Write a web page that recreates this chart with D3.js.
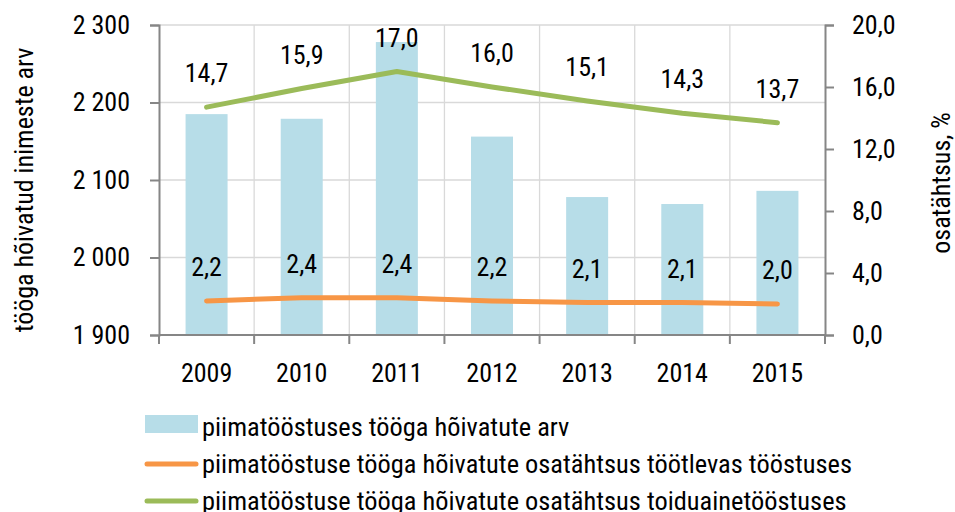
<!DOCTYPE html>
<html><head><meta charset="utf-8">
<script src="https://cdn.jsdelivr.net/npm/d3@7"></script>
<style>
body{margin:0;background:#fff;}
svg text{font-family:"Roboto Condensed","Liberation Sans Narrow","DejaVu Sans Condensed",sans-serif;fill:#000;}
</style></head>
<body><svg id="c" width="955" height="512"></svg>
<script>
const years = ["2009","2010","2011","2012","2013","2014","2015"];
const employed = [2185, 2179, 2278, 2156, 2078, 2069, 2086];
const shareManufacturing = [2.2, 2.4, 2.4, 2.2, 2.1, 2.1, 2.0];
const shareFood = [14.7, 15.9, 17.0, 16.0, 15.1, 14.3, 13.7];
const leftTicks = [1900, 2000, 2100, 2200, 2300];
const rightTicks = [0, 4, 8, 12, 16, 20];
const legendLabels = ["piimatööstuses tööga hõivatute arv","piimatööstuse tööga hõivatute osatähtsus töötlevas tööstuses","piimatööstuse tööga hõivatute osatähtsus toiduainetööstuses"];
const colors = {bar:"#b7dde8", orange:"#f79646", green:"#9bbb59", grid:"#d9d9d9", axis:"#868686"};
const FS = "26px";

const svg = d3.select("#c");
const L=159, R=825, T=25, B=335;
const xb = d3.scaleBand().domain(years).range([L,R]);
const yL = d3.scaleLinear().domain([1900,2300]).range([B,T]);
const yR = d3.scaleLinear().domain([0,20]).range([B,T]);
const fmtL = d => d3.format(",")(d).replace(/,/g," ");
const fmtR = d => d.toFixed(1).replace(".",",");

// gridlines
svg.append("g").selectAll("line").data(leftTicks).join("line")
  .attr("x1",L).attr("x2",R).attr("y1",d=>yL(d)).attr("y2",d=>yL(d))
  .attr("stroke",colors.grid).attr("stroke-width",1.3);
svg.append("g").selectAll("line").data(years.slice(1)).join("line")
  .attr("x1",d=>xb(d)).attr("x2",d=>xb(d)).attr("y1",T).attr("y2",B)
  .attr("stroke",colors.grid).attr("stroke-width",1.3);

// bars
svg.append("g").selectAll("rect").data(years).join("rect")
  .attr("x",d=>xb(d)+xb.bandwidth()/2-21).attr("width",42)
  .attr("y",(d,i)=>yL(employed[i])).attr("height",(d,i)=>B-yL(employed[i]))
  .attr("fill",colors.bar);

// axes
const axL = svg.append("g").attr("transform",`translate(${L},0)`)
  .call(d3.axisLeft(yL).tickValues(leftTicks).tickFormat(fmtL).tickSize(9).tickPadding(20));
const axR = svg.append("g").attr("transform",`translate(${R},0)`)
  .call(d3.axisRight(yR).tickValues(rightTicks).tickFormat(fmtR).tickSize(9).tickPadding(18));
const axB = svg.append("g").attr("transform",`translate(0,${B})`)
  .call(d3.axisBottom(xb).tickSize(0).tickPadding(29));
axB.select(".domain").remove();
svg.append("g").selectAll("line").data(years.concat(["end"])).join("line")
  .attr("x1",(d,i)=>L+i*xb.step()).attr("x2",(d,i)=>L+i*xb.step())
  .attr("y1",B).attr("y2",B+9).attr("stroke",colors.axis).attr("stroke-width",2);
svg.append("line").attr("x1",L).attr("x2",R).attr("y1",B).attr("y2",B).attr("stroke",colors.axis).attr("stroke-width",2);
[axL,axR].forEach(a=>{a.select(".domain").attr("stroke",colors.axis).attr("stroke-width",2);
  a.selectAll(".tick line").attr("stroke",colors.axis).attr("stroke-width",2);});
svg.selectAll(".tick text").style("font-size",FS).attr("fill","#000");

// lines
const cx = d => xb(d)+xb.bandwidth()/2;
const lineR = d3.line().x((d,i)=>cx(years[i])).y(d=>yR(d));
svg.append("path").datum(shareFood).attr("d",lineR).attr("fill","none").attr("stroke",colors.green).attr("stroke-width",5).attr("stroke-linecap","round").attr("stroke-linejoin","round");
svg.append("path").datum(shareManufacturing).attr("d",lineR).attr("fill","none").attr("stroke",colors.orange).attr("stroke-width",5).attr("stroke-linecap","round").attr("stroke-linejoin","round");

// data labels
[shareFood, shareManufacturing].forEach(s=>{
  svg.append("g").selectAll("text").data(s).join("text")
    .attr("x",(d,i)=>cx(years[i])).attr("y",d=>yR(d)-34).attr("dy","0.35em")
    .attr("text-anchor","middle").style("font-size",FS).text(d=>fmtR(d));
});

// axis titles
svg.append("text").attr("transform","translate(24,190) rotate(-90)").attr("text-anchor","middle").attr("dy","0.35em")
  .style("font-size",FS).text("tööga hõivatud inimeste arv");
svg.append("text").attr("transform","translate(941,183) rotate(-90)").attr("text-anchor","middle").attr("dy","0.33em")
  .style("font-size",FS).text("osatähtsus, %");

// legend
const lg = svg.append("g");
lg.append("rect").attr("x",145).attr("y",415).attr("width",53).attr("height",18).attr("fill",colors.bar);
[[colors.orange,464],[colors.green,501]].forEach(([c,y])=>{
  lg.append("line").attr("x1",147).attr("x2",196).attr("y1",y).attr("y2",y).attr("stroke",c).attr("stroke-width",5).attr("stroke-linecap","round");
});
lg.selectAll("text").data(legendLabels).join("text")
  .attr("x",202).attr("y",(d,i)=>427+i*37).attr("dy","0.35em").style("font-size","26.4px").text(d=>d);
</script></body></html>
